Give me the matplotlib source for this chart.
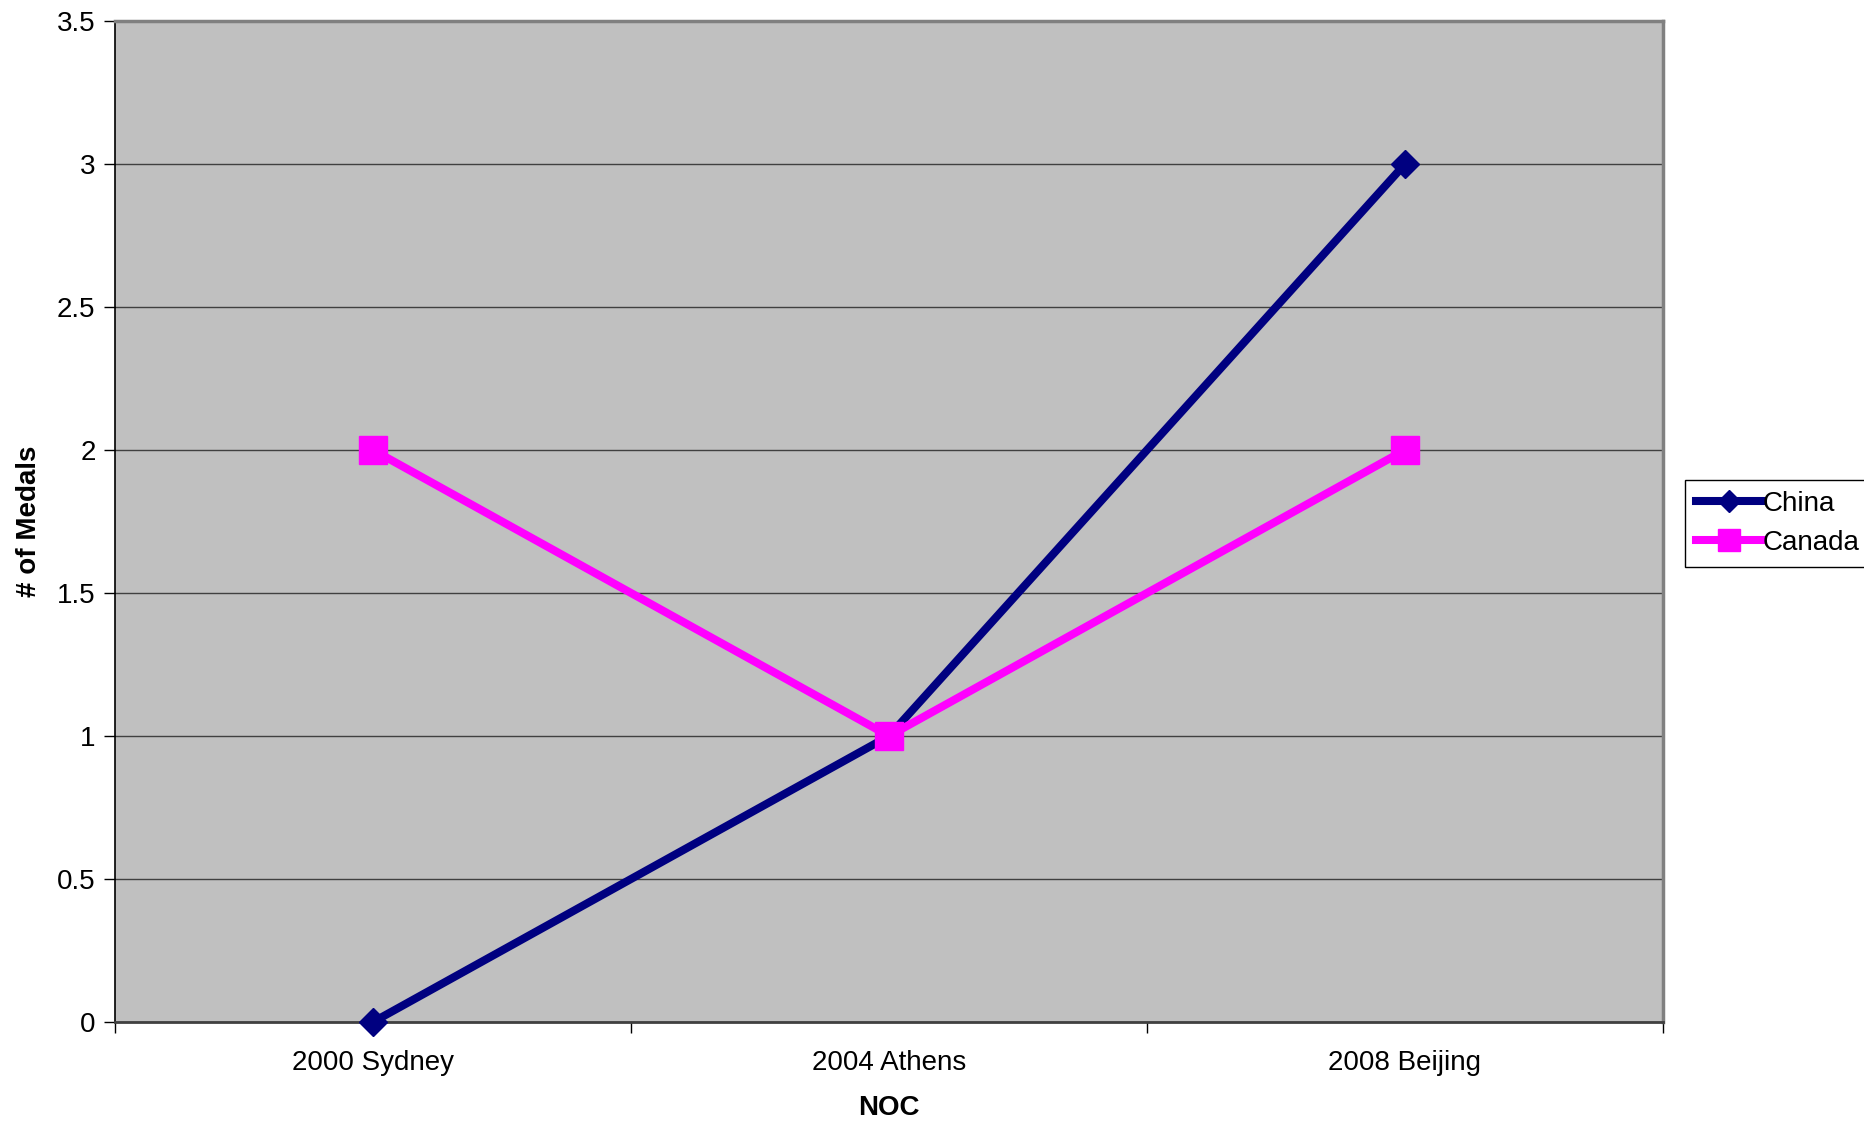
import matplotlib
matplotlib.use("Agg")
import matplotlib.pyplot as plt
from matplotlib.ticker import FixedLocator, NullFormatter

categories = ["2000 Sydney", "2004 Athens", "2008 Beijing"]
china = [0, 1, 3]
canada = [2, 1, 2]
yticks = [0, 0.5, 1, 1.5, 2, 2.5, 3, 3.5]
ytick_labels = ["0", "0.5", "1", "1.5", "2", "2.5", "3", "3.5"]

plt.rcParams['font.family'] = ['Liberation Sans', 'DejaVu Sans']

W, H = 1864, 1124
fig = plt.figure(figsize=(W/100, H/100), dpi=100)
left, right, top, bottom = 115, 1663, 21, 1022
ax = fig.add_axes([left/W, 1 - bottom/H, (right-left)/W, (bottom-top)/H])
ax.set_facecolor('#C0C0C0')

x = [i + 0.5 for i in range(len(categories))]
ax.plot(x, china, color='#000080', lw=5.8, marker='D', ms=14, label='China',
        zorder=3, clip_on=False)
ax.plot(x, canada, color='#FF00FF', lw=5.8, marker='s', ms=20, label='Canada',
        zorder=4, clip_on=False)

ax.set_xlim(0, 3)
ax.set_ylim(0, 3.5)
ax.set_yticks(yticks)
ax.set_yticklabels(ytick_labels)
ax.yaxis.grid(True, color='#404040', lw=1)
ax.set_axisbelow(True)

ax.xaxis.set_major_locator(FixedLocator([0, 1, 2, 3]))
ax.xaxis.set_major_formatter(NullFormatter())
ax.xaxis.set_minor_locator(FixedLocator(x))
ax.set_xticklabels(categories, minor=True)
ax.tick_params(axis='x', which='minor', length=0, labelsize=20, pad=20)
ax.tick_params(axis='x', which='major', length=8, width=1, color='black', direction='out')
ax.tick_params(axis='y', length=8, width=1, labelsize=20, pad=6, direction='out')

for s in ['top', 'right']:
    ax.spines[s].set_color('#808080')
    ax.spines[s].set_linewidth(2.5)
ax.spines['left'].set_color('black')
ax.spines['left'].set_linewidth(1.2)
ax.spines['bottom'].set_color('#404040')
ax.spines['bottom'].set_linewidth(2)

ax.set_xlabel('NOC', fontsize=20, fontweight='bold', labelpad=14)
ax.set_ylabel('# of Medals', fontsize=20, fontweight='bold', labelpad=11)

leg = fig.legend(loc='upper left', bbox_to_anchor=(1685/W, 1 - 480/H), fontsize=20,
                 frameon=True, fancybox=False, edgecolor='black', framealpha=1,
                 handlelength=2.4, handletextpad=0.0, borderpad=0.4, labelspacing=0.45,
                 borderaxespad=0, markerscale=0.8)
leg.get_frame().set_linewidth(1)

fig.savefig('out.png', dpi=100)
